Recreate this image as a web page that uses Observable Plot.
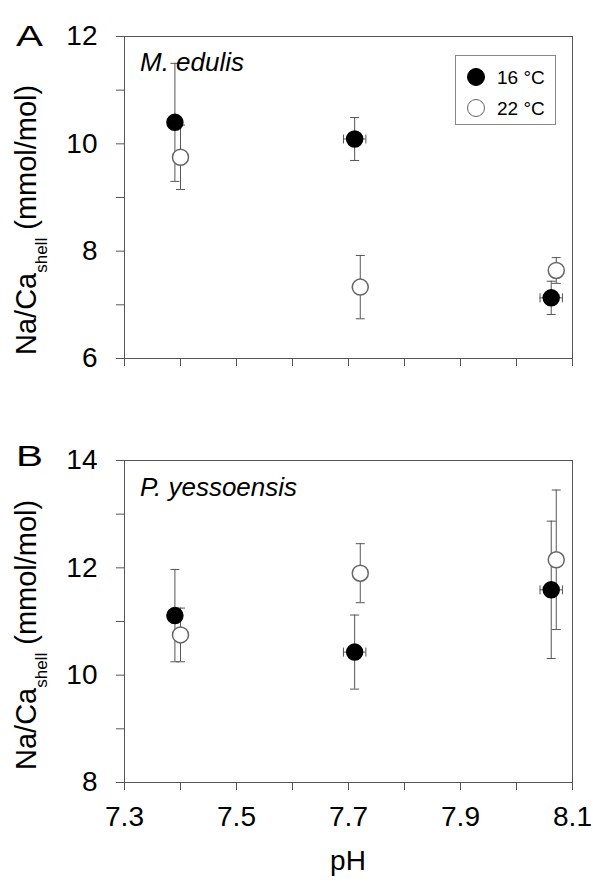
<!DOCTYPE html>
<html>
<head>
<meta charset="utf-8">
<script src="https://cdn.jsdelivr.net/npm/d3@7"></script>
<script src="https://cdn.jsdelivr.net/npm/@observablehq/plot@0.6"></script>
<style>
  body { margin: 0; background: #fff; }
  #chart { position: relative; width: 593px; height: 883px; }
  #chart svg { position: absolute; left: 0; overflow: visible; }
</style>
</head>
<body>
<div id="chart"></div>
<script>
// Temperature treatments
const temps = ["16 °C", "22 °C"];

// Axis ticks and labels
const xTicks = [7.3, 7.4, 7.5, 7.6, 7.7, 7.8, 7.9, 8.0, 8.1];
const xLabels = [7.3, 7.5, 7.7, 7.9, 8.1];
const yTicksA = [6, 7, 8, 9, 10, 11, 12];
const yLabelsA = [6, 8, 10, 12];
const yTicksB = [8, 9, 10, 11, 12, 13, 14];
const yLabelsB = [8, 10, 12, 14];

// M. edulis — Na/Ca (mmol/mol) with SD, pH with SD
const edulisPH16 = [7.390, 7.711, 8.062];
const edulisPHsd16 = [0, 0.02, 0.02];
const edulisNa16 = [10.40, 10.09, 7.13];
const edulisSd16 = [1.10, 0.40, 0.31];
const edulisPH22 = [7.400, 7.721, 8.071];
const edulisPHsd22 = [0, 0, 0];
const edulisNa22 = [9.75, 7.33, 7.64];
const edulisSd22 = [0.60, 0.59, 0.24];

// P. yessoensis
const yessoPH16 = [7.390, 7.711, 8.062];
const yessoPHsd16 = [0, 0.02, 0.02];
const yessoNa16 = [11.11, 10.43, 11.59];
const yessoSd16 = [0.86, 0.69, 1.28];
const yessoPH22 = [7.400, 7.721, 8.071];
const yessoPHsd22 = [0, 0, 0];
const yessoNa22 = [10.75, 11.90, 12.15];
const yessoSd22 = [0.50, 0.55, 1.30];

const FONT = "'Liberation Sans', Arial, sans-serif";
const GREY = "#555";

function rows(temp, ph, phSd, na, sd) {
  return ph.map((p, i) => ({temp, ph: p, phSd: phSd[i], na: na[i], sd: sd[i]}));
}

const edulis = [
  ...rows(temps[0], edulisPH16, edulisPHsd16, edulisNa16, edulisSd16),
  ...rows(temps[1], edulisPH22, edulisPHsd22, edulisNa22, edulisSd22)
];
const yesso = [
  ...rows(temps[0], yessoPH16, yessoPHsd16, yessoNa16, yessoSd16),
  ...rows(temps[1], yessoPH22, yessoPHsd22, yessoNa22, yessoSd22)
];

// Error-bar caps as dot symbols (horizontal and vertical strokes)
const capH = {draw(ctx, size) { const r = Math.sqrt(size / Math.PI); ctx.moveTo(-r, 0); ctx.lineTo(r, 0); }};
const capV = {draw(ctx, size) { const r = Math.sqrt(size / Math.PI); ctx.moveTo(0, -r); ctx.lineTo(0, r); }};

function panel(data, {yDomain, yTicks, yLabels, height, marginTop, marginBottom, showX}) {
  const withPh = data.filter(d => d.phSd > 0);
  const capStyle = {r: 4.5, fill: "none", stroke: GREY, strokeWidth: 1};
  return Plot.plot({
    width: 593,
    height,
    marginTop,
    marginBottom,
    marginLeft: 124,
    marginRight: 21,
    style: {fontFamily: FONT, fontSize: "28px", color: "black", background: "transparent", overflow: "visible"},
    x: {domain: [7.3, 8.1]},
    y: {domain: yDomain},
    marks: [
      Plot.frame({stroke: GREY}),
      Plot.axisY({ticks: yTicks, tickSize: 8, tickPadding: 19, stroke: GREY, fill: "black",
        tickFormat: d => yLabels.includes(d) ? String(d) : "", label: null}),
      Plot.axisX({ticks: xTicks, tickSize: 8, tickPadding: 16, stroke: GREY, fill: "black",
        tickFormat: d => showX && xLabels.includes(d) ? d.toFixed(1) : "", label: null}),
      // vertical SD bars
      Plot.ruleX(data, {x: "ph", y1: d => d.na - d.sd, y2: d => d.na + d.sd, stroke: GREY}),
      Plot.dot(data, {x: "ph", y: d => d.na - d.sd, symbol: capH, ...capStyle}),
      Plot.dot(data, {x: "ph", y: d => d.na + d.sd, symbol: capH, ...capStyle}),
      // horizontal pH SD bars
      Plot.ruleY(withPh, {y: "na", x1: d => d.ph - d.phSd, x2: d => d.ph + d.phSd, stroke: GREY}),
      Plot.dot(withPh, {x: d => d.ph - d.phSd, y: "na", symbol: capV, ...capStyle}),
      Plot.dot(withPh, {x: d => d.ph + d.phSd, y: "na", symbol: capV, ...capStyle}),
      // means
      Plot.dot(data.filter(d => d.temp === temps[0]), {x: "ph", y: "na", r: 8, fill: "black", stroke: "black"}),
      Plot.dot(data.filter(d => d.temp === temps[1]), {x: "ph", y: "na", r: 8, fill: "white", stroke: "#666"})
    ]
  });
}

function decorate(svg, {letter, species, titleStart}) {
  const s = d3.select(svg).append("g").attr("text-anchor", "start").attr("font-family", FONT);
  s.append("text").attr("x", 16).attr("y", 46)
    .attr("font-size", 30)
    .attr("textLength", 27).attr("lengthAdjust", "spacingAndGlyphs")
    .text(letter);
  s.append("text").attr("x", 140).attr("y", species.y)
    .attr("font-size", 26).attr("font-style", "italic")
    .text(species.name);
  const t = s.append("text")
    .attr("transform", `translate(36,${titleStart}) rotate(-90)`)
    .attr("font-size", 29);
  t.append("tspan").text("Na/Ca");
  t.append("tspan").attr("font-size", 17).attr("dy", 11).text("shell");
  t.append("tspan").attr("dy", -11).text(" (mmol/mol)");
}

const chart = document.getElementById("chart");

const a = panel(edulis, {yDomain: [6, 12], yTicks: yTicksA, yLabels: yLabelsA,
  height: 420, marginTop: 36, marginBottom: 62, showX: false});
a.style.top = "0px";
chart.appendChild(a);
decorate(a, {letter: "A", species: {name: "M. edulis", y: 71}, titleStart: 355});

// legend box
const lg = d3.select(a).append("g").attr("text-anchor", "start").attr("font-family", FONT);
lg.append("rect").attr("x", 455.5).attr("y", 55.5).attr("width", 100).attr("height", 69)
  .attr("fill", "white").attr("stroke", "#888");
[[temps[0], 77, "black", "black"], [temps[1], 108, "white", "#666"]].forEach(([label, y, fill, stroke]) => {
  lg.append("circle").attr("cx", 476).attr("cy", y).attr("r", 8.5).attr("fill", fill).attr("stroke", stroke);
  lg.append("text").attr("x", 497).attr("y", y + 6.5)
    .attr("font-size", 19).text(label);
});

const b = panel(yesso, {yDomain: [8, 14], yTicks: yTicksB, yLabels: yLabelsB,
  height: 463, marginTop: 40, marginBottom: 101, showX: true});
b.style.top = "420px";
chart.appendChild(b);
decorate(b, {letter: "B", species: {name: "P. yessoensis", y: 76}, titleStart: 350});
d3.select(b).append("text").attr("x", 348).attr("y", 450)
  .attr("text-anchor", "middle").attr("font-family", FONT).attr("font-size", 28).text("pH");
</script>
</body>
</html>
